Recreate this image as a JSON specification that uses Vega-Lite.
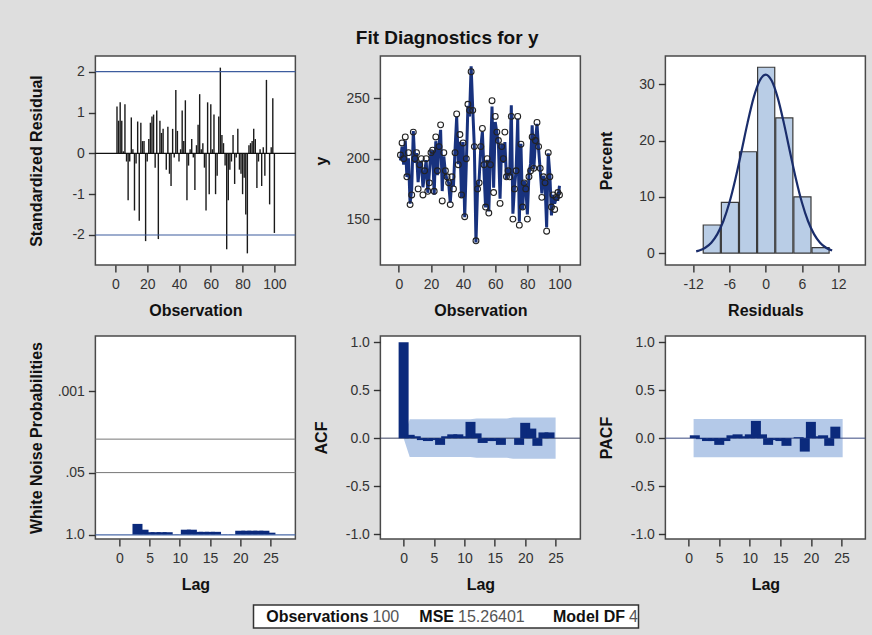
{
  "$schema": "https://vega.github.io/schema/vega-lite/v6.json",
  "background": "#dedede",
  "padding": {"left": 27, "top": 29, "right": 6, "bottom": 9},
  "title": {"text": "Fit Diagnostics for y", "anchor": "middle", "fontSize": 19, "font": "Liberation Sans", "fontWeight": "bold", "color": "#111", "offset": 7},
  "datasets": {
    "series": [
      {"obs":1,"r":1.15,"y":203,"fit":198.5},{"obs":2,"r":0.8,"y":213,"fit":209.9},{"obs":3,"r":1.25,"y":200,"fit":195.1},{"obs":4,"r":0.8,"y":218,"fit":214.9},{"obs":5,"r":0.05,"y":185,"fit":184.8},
      {"obs":6,"r":1.2,"y":205,"fit":200.3},{"obs":7,"r":-0.2,"y":162,"fit":162.8},{"obs":8,"r":-1.15,"y":170,"fit":174.5},{"obs":9,"r":-0.2,"y":222,"fit":222.8},{"obs":10,"r":0.88,"y":200,"fit":196.6},
      {"obs":11,"r":0.1,"y":205,"fit":204.6},{"obs":12,"r":-1.4,"y":175,"fit":180.5},{"obs":13,"r":-0.25,"y":195,"fit":196},{"obs":14,"r":0.78,"y":200,"fit":197},{"obs":15,"r":-1.65,"y":170,"fit":176.4},
      {"obs":16,"r":0.75,"y":190,"fit":187.1},{"obs":17,"r":0.3,"y":200,"fit":198.8},{"obs":18,"r":0.3,"y":173,"fit":171.8},{"obs":19,"r":-2.15,"y":180,"fit":188.4},{"obs":20,"r":-0.2,"y":205,"fit":205.8},
      {"obs":21,"r":0.35,"y":207,"fit":205.6},{"obs":22,"r":0.75,"y":173,"fit":170.1},{"obs":23,"r":0.9,"y":218,"fit":214.5},{"obs":24,"r":0.95,"y":190,"fit":186.3},{"obs":25,"r":-0.35,"y":210,"fit":211.4},
      {"obs":26,"r":1.05,"y":228,"fit":223.9},{"obs":27,"r":-2.1,"y":165,"fit":173.2},{"obs":28,"r":0.8,"y":205,"fit":201.9},{"obs":29,"r":0.5,"y":190,"fit":188},{"obs":30,"r":0.6,"y":185,"fit":182.7},
      {"obs":31,"r":0.0,"y":180,"fit":180},{"obs":32,"r":-0.4,"y":162,"fit":163.6},{"obs":33,"r":0.65,"y":185,"fit":182.5},{"obs":34,"r":-0.5,"y":175,"fit":177},{"obs":35,"r":-0.8,"y":205,"fit":208.1},
      {"obs":36,"r":0.6,"y":237,"fit":234.7},{"obs":37,"r":-0.1,"y":195,"fit":195.4},{"obs":38,"r":1.55,"y":220,"fit":214},{"obs":39,"r":0.55,"y":170,"fit":167.9},{"obs":40,"r":-0.2,"y":213,"fit":213.8},
      {"obs":41,"r":0.1,"y":152,"fit":151.6},{"obs":42,"r":1.05,"y":200,"fit":195.9},{"obs":43,"r":0.3,"y":245,"fit":243.8},{"obs":44,"r":1.3,"y":240,"fit":234.9},{"obs":45,"r":-1.15,"y":272,"fit":276.5},
      {"obs":46,"r":-0.3,"y":240,"fit":241.2},{"obs":47,"r":0.1,"y":210,"fit":209.6},{"obs":48,"r":0.35,"y":132,"fit":130.6},{"obs":49,"r":-0.1,"y":175,"fit":175.4},{"obs":50,"r":-0.9,"y":180,"fit":183.5},
      {"obs":51,"r":0.2,"y":210,"fit":209.2},{"obs":52,"r":0.7,"y":225,"fit":222.3},{"obs":53,"r":1.45,"y":195,"fit":189.3},{"obs":54,"r":0.1,"y":160,"fit":159.6},{"obs":55,"r":0.25,"y":200,"fit":199},
      {"obs":56,"r":-0.35,"y":155,"fit":156.4},{"obs":57,"r":-1.4,"y":195,"fit":200.5},{"obs":58,"r":1.25,"y":248,"fit":243.1},{"obs":59,"r":-1.0,"y":172,"fit":175.9},{"obs":60,"r":1.2,"y":235,"fit":230.3},
      {"obs":61,"r":0.1,"y":222,"fit":221.6},{"obs":62,"r":0.95,"y":215,"fit":211.3},{"obs":63,"r":-1.0,"y":163,"fit":166.9},{"obs":64,"r":-0.55,"y":210,"fit":212.1},{"obs":65,"r":0.9,"y":200,"fit":196.5},
      {"obs":66,"r":2.1,"y":222,"fit":213.8},{"obs":67,"r":0.45,"y":185,"fit":183.2},{"obs":68,"r":0.25,"y":190,"fit":189},{"obs":69,"r":-0.3,"y":185,"fit":186.2},{"obs":70,"r":-2.35,"y":235,"fit":244.2},
      {"obs":71,"r":-1.15,"y":150,"fit":154.5},{"obs":72,"r":-0.4,"y":175,"fit":176.6},{"obs":73,"r":-0.2,"y":190,"fit":190.8},{"obs":74,"r":0.45,"y":235,"fit":233.2},{"obs":75,"r":-0.75,"y":145,"fit":147.9},
      {"obs":76,"r":-0.1,"y":212,"fit":212.4},{"obs":77,"r":0.6,"y":160,"fit":157.7},{"obs":78,"r":-0.4,"y":180,"fit":181.6},{"obs":79,"r":-0.5,"y":175,"fit":177},{"obs":80,"r":-1.0,"y":150,"fit":153.9},
      {"obs":81,"r":-0.6,"y":185,"fit":187.3},{"obs":82,"r":-1.5,"y":190,"fit":195.9},{"obs":83,"r":-2.45,"y":218,"fit":227.6},{"obs":84,"r":0.2,"y":192,"fit":191.2},{"obs":85,"r":0.25,"y":215,"fit":214},
      {"obs":86,"r":0.3,"y":230,"fit":228.8},{"obs":87,"r":0.6,"y":210,"fit":207.7},{"obs":88,"r":0.35,"y":192,"fit":190.6},{"obs":89,"r":-0.85,"y":168,"fit":171.3},{"obs":90,"r":-0.2,"y":185,"fit":185.8},
      {"obs":91,"r":0.1,"y":180,"fit":179.6},{"obs":92,"r":-0.8,"y":140,"fit":143.1},{"obs":93,"r":0.15,"y":205,"fit":204.4},{"obs":94,"r":-0.55,"y":185,"fit":187.1},{"obs":95,"r":1.8,"y":160,"fit":153},
      {"obs":96,"r":0.0,"y":170,"fit":170},{"obs":97,"r":-1.25,"y":158,"fit":162.9},{"obs":98,"r":0.15,"y":168,"fit":167.4},{"obs":99,"r":1.35,"y":172,"fit":166.7},{"obs":100,"r":-1.95,"y":170,"fit":177.6}
    ],
    "hist": [
      {"lo":-10.5,"hi":-7.5,"pct":5},{"lo":-7.5,"hi":-4.5,"pct":9},{"lo":-4.5,"hi":-1.5,"pct":18},{"lo":-1.5,"hi":1.5,"pct":33},
      {"lo":1.5,"hi":4.5,"pct":24},{"lo":4.5,"hi":7.5,"pct":10},{"lo":7.5,"hi":10.5,"pct":1}
    ],
    "curve": [
      {"x":-11.5,"pct":0.31},{"x":-11,"pct":0.46},{"x":-10,"pct":0.96},{"x":-9,"pct":1.86},{"x":-8,"pct":3.38},{"x":-7,"pct":5.71},
      {"x":-6,"pct":8.99},{"x":-5,"pct":13.22},{"x":-4,"pct":18.11},{"x":-3,"pct":23.13},{"x":-2,"pct":27.56},{"x":-1,"pct":30.6},
      {"x":0,"pct":31.7},{"x":1,"pct":30.6},{"x":2,"pct":27.56},{"x":3,"pct":23.13},{"x":4,"pct":18.11},{"x":5,"pct":13.22},
      {"x":6,"pct":8.99},{"x":7,"pct":5.71},{"x":8,"pct":3.38},{"x":9,"pct":1.86},{"x":10,"pct":0.96},{"x":11,"pct":0.46}
    ],
    "wn": [
      {"lag":3,"p":0.59},{"lag":4,"p":0.78},{"lag":5,"p":0.88},{"lag":6,"p":0.88},
      {"lag":7,"p":0.88},{"lag":8,"p":0.88},{"lag":9,"p":0.99},{"lag":10,"p":0.99},{"lag":11,"p":0.78},{"lag":12,"p":0.78},
      {"lag":13,"p":0.865},{"lag":14,"p":0.865},{"lag":15,"p":0.865},{"lag":16,"p":0.865},{"lag":17,"p":0.99},{"lag":18,"p":0.99},
      {"lag":19,"p":0.99},{"lag":20,"p":0.82},{"lag":21,"p":0.82},{"lag":22,"p":0.82},{"lag":23,"p":0.82},{"lag":24,"p":0.82},{"lag":25,"p":0.9}
    ],
    "acf": [
      {"lag":0,"v":1.0},{"lag":1,"v":0.035},{"lag":2,"v":0.02},{"lag":3,"v":-0.02},{"lag":4,"v":-0.03},{"lag":5,"v":-0.02},
      {"lag":6,"v":-0.07},{"lag":7,"v":0.02},{"lag":8,"v":0.04},{"lag":9,"v":0.04},{"lag":10,"v":0.02},{"lag":11,"v":0.17},
      {"lag":12,"v":0.05},{"lag":13,"v":-0.05},{"lag":14,"v":-0.03},{"lag":15,"v":-0.03},{"lag":16,"v":-0.07},{"lag":17,"v":0.0},
      {"lag":18,"v":0.0},{"lag":19,"v":-0.07},{"lag":20,"v":0.16},{"lag":21,"v":0.1},{"lag":22,"v":-0.08},{"lag":23,"v":0.06},{"lag":24,"v":0.06}
    ],
    "acfband": [
      {"lag":0,"hi":0,"lo":0},{"lag":1,"hi":0.197,"lo":-0.197},{"lag":11,"hi":0.197,"lo":-0.197},{"lag":12,"hi":0.205,"lo":-0.205},
      {"lag":17,"hi":0.205,"lo":-0.205},{"lag":18,"hi":0.215,"lo":-0.215},{"lag":25,"hi":0.215,"lo":-0.215}
    ],
    "pacf": [
      {"lag":1,"v":0.03},{"lag":2,"v":-0.01},{"lag":3,"v":-0.03},{"lag":4,"v":-0.03},{"lag":5,"v":-0.07},{"lag":6,"v":-0.03},
      {"lag":7,"v":0.03},{"lag":8,"v":0.04},{"lag":9,"v":0.02},{"lag":10,"v":0.04},{"lag":11,"v":0.18},{"lag":12,"v":0.04},
      {"lag":13,"v":-0.07},{"lag":14,"v":-0.02},{"lag":15,"v":-0.03},{"lag":16,"v":-0.08},{"lag":17,"v":0.0},{"lag":18,"v":0.01},
      {"lag":19,"v":-0.14},{"lag":20,"v":0.17},{"lag":21,"v":0.02},{"lag":22,"v":0.03},{"lag":23,"v":-0.08},{"lag":24,"v":0.12},{"lag":25,"v":0.0}
    ],
    "pacfband": [
      {"lag":0.8,"hi":0.2,"lo":-0.2},{"lag":25.2,"hi":0.2,"lo":-0.2}
    ],
    "footer": [
      {"label":"Observations","value":"100"},{"label":"MSE","value":"15.26401"},{"label":"Model DF","value":"4"}
    ]
  },
  "center": true,
  "spacing": 11,
  "vconcat": [
    {
      "columns": 3,
      "spacing": {"row": 15, "column": 15},
      "concat": [
        {
          "width": 200, "height": 209,
          "layer": [
            {"data": {"name": "series"},
             "mark": {"type": "rule", "color": "#1a1a1a", "strokeWidth": 1.4},
             "encoding": {
               "x": {"field": "obs", "type": "quantitative", "scale": {"domain": [-12.6, 113.2], "nice": false, "zero": false}, "axis": {"values": [0,20,40,60,80,100], "title": "Observation"}},
               "y": {"field": "r", "type": "quantitative", "scale": {"domain": [-2.735, 2.385], "nice": false}, "axis": {"values": [-2,-1,0,1,2], "title": "Standardized Residual"}},
               "y2": {"datum": 0}
             }},
            {"data": {"values": [{"ref": 2}, {"ref": -2}]},
             "mark": {"type": "rule", "color": "#3d5c9e", "strokeWidth": 1.2},
             "encoding": {"y": {"field": "ref", "type": "quantitative"}}},
            {"data": {"values": [{"ref": 0}]},
             "mark": {"type": "rule", "color": "#111", "strokeWidth": 1.2},
             "encoding": {"y": {"field": "ref", "type": "quantitative"}}}
          ]
        },
        {
          "width": 200, "height": 209,
          "data": {"name": "series"},
          "encoding": {
            "x": {"field": "obs", "type": "quantitative", "scale": {"domain": [-11.5, 113], "nice": false, "zero": false}, "axis": {"values": [0,20,40,60,80,100], "title": "Observation"}}
          },
          "layer": [
            {"mark": {"type": "line", "color": "#18327e", "strokeWidth": 3},
             "encoding": {"y": {"field": "fit", "type": "quantitative", "scale": {"domain": [112, 285], "nice": false, "zero": false}, "axis": {"values": [150, 200, 250], "title": "y"}}}},
            {"mark": {"type": "point", "shape": "circle", "filled": false, "color": "#222", "size": 34, "strokeWidth": 1.1, "opacity": 1},
             "encoding": {"y": {"field": "y", "type": "quantitative"}}}
          ]
        },
        {
          "width": 200, "height": 209,
          "layer": [
            {"data": {"name": "hist"},
             "mark": {"type": "bar", "fill": "#b9cde6", "stroke": "#3a3a3a", "strokeWidth": 1.2},
             "encoding": {
               "x": {"field": "lo", "type": "quantitative", "bin": {"binned": true, "step": 3}, "scale": {"domain": [-16.6, 16.5], "nice": false, "zero": false}, "axis": {"values": [-12,-6,0,6,12], "title": "Residuals"}},
               "x2": {"field": "hi"},
               "y": {"field": "pct", "type": "quantitative", "scale": {"domain": [-2.1, 35], "nice": false, "zero": false}, "axis": {"values": [0,10,20,30], "title": "Percent"}},
               "y2": {"datum": 0}
             }},
            {"data": {"name": "curve"},
             "mark": {"type": "line", "color": "#1a2d6b", "strokeWidth": 2.2, "interpolate": "monotone"},
             "encoding": {
               "x": {"field": "x", "type": "quantitative"},
               "y": {"field": "pct", "type": "quantitative"}
             }}
          ]
        },
        {
          "width": 200, "height": 203,
          "layer": [
            {"data": {"values": [{"ref": 0.01}, {"ref": 0.05}]},
             "mark": {"type": "rule", "color": "#777", "strokeWidth": 1},
             "encoding": {"y": {"field": "ref", "type": "quantitative", "scale": {"type": "log", "domain": [0.00007, 1.22], "reverse": true, "nice": false}, "axis": {"values": [0.001, 0.05, 1], "labelExpr": "datum.value == 1 ? '1.0' : datum.value == 0.05 ? '.05' : '.001'", "title": "White Noise Probabilities"}}}},
            {"data": {"name": "wn"},
             "mark": {"type": "bar", "color": "#0b2a7c", "size": 10},
             "encoding": {
               "x": {"field": "lag", "type": "quantitative", "scale": {"domain": [-3.14, 28.3], "nice": false, "zero": false}, "axis": {"values": [0,5,10,15,20,25], "title": "Lag"}},
               "y": {"field": "p", "type": "quantitative"},
               "y2": {"datum": 1}
             }},
            {"data": {"values": [{"ref": 1}]},
             "mark": {"type": "rule", "color": "#4a6aa8", "strokeWidth": 1.2},
             "encoding": {"y": {"field": "ref", "type": "quantitative"}}}
          ]
        },
        {
          "width": 200, "height": 203,
          "layer": [
            {"data": {"name": "acfband"},
             "mark": {"type": "area", "color": "#b4c9e8", "opacity": 1},
             "encoding": {
               "x": {"field": "lag", "type": "quantitative", "scale": {"domain": [-3.0, 28.25], "nice": false, "zero": false}, "axis": {"values": [0,5,10,15,20,25], "title": "Lag"}},
               "y": {"field": "hi", "type": "quantitative", "scale": {"domain": [-1.052, 1.066], "nice": false}, "axis": {"values": [-1,-0.5,0,0.5,1], "format": ".1f", "title": "ACF"}},
               "y2": {"field": "lo"}
             }},
            {"data": {"values": [{"ref": 0}]},
             "mark": {"type": "rule", "color": "#3a4260", "strokeWidth": 1},
             "encoding": {"y": {"field": "ref", "type": "quantitative"}}},
            {"data": {"name": "acf"},
             "mark": {"type": "bar", "color": "#0b2a7c", "size": 10},
             "encoding": {
               "x": {"field": "lag", "type": "quantitative", "axis": {"values": [0,5,10,15,20,25], "title": "Lag"}},
               "y": {"field": "v", "type": "quantitative", "axis": {"values": [-1,-0.5,0,0.5,1], "format": ".1f", "title": "ACF"}},
               "y2": {"datum": 0}
             }}
          ]
        },
        {
          "width": 200, "height": 203,
          "layer": [
            {"data": {"name": "pacfband"},
             "mark": {"type": "area", "color": "#b4c9e8", "opacity": 1},
             "encoding": {
               "x": {"field": "lag", "type": "quantitative", "scale": {"domain": [-3.0, 28.1], "nice": false, "zero": false}, "axis": {"values": [0,5,10,15,20,25], "title": "Lag"}},
               "y": {"field": "hi", "type": "quantitative", "scale": {"domain": [-1.052, 1.066], "nice": false}, "axis": {"values": [-1,-0.5,0,0.5,1], "format": ".1f", "title": "PACF"}},
               "y2": {"field": "lo"}
             }},
            {"data": {"values": [{"ref": 0}]},
             "mark": {"type": "rule", "color": "#3a4a80", "strokeWidth": 1},
             "encoding": {"y": {"field": "ref", "type": "quantitative"}}},
            {"data": {"name": "pacf"},
             "mark": {"type": "bar", "color": "#0b2a7c", "size": 10},
             "encoding": {
               "x": {"field": "lag", "type": "quantitative", "axis": {"values": [0,5,10,15,20,25], "title": "Lag"}},
               "y": {"field": "v", "type": "quantitative", "axis": {"values": [-1,-0.5,0,0.5,1], "format": ".1f", "title": "PACF"}},
               "y2": {"datum": 0}
             }}
          ]
        }
      ]
    },
    {
      "hconcat": [
        {
          "width": 385, "height": 23,
          "view": {"stroke": "#333", "strokeWidth": 1.5, "fill": "white"},
          "data": {"name": "footer"},
          "encoding": {
            "x": {"field": "label", "type": "nominal", "scale": {"type": "point", "domain": ["Observations", "MSE", "gap", "Model DF"], "padding": 0.7515, "align": 0.895}, "axis": null}
          },
          "layer": [
            {"mark": {"type": "text", "align": "right", "baseline": "middle", "font": "Liberation Sans", "fontWeight": "bold", "fontSize": 16, "color": "#111"},
             "encoding": {"text": {"field": "label"}}},
            {"mark": {"type": "text", "align": "left", "baseline": "middle", "dx": 4, "font": "Liberation Sans", "fontSize": 16, "color": "#555"},
             "encoding": {"text": {"field": "value"}}}
          ]
        },
        {
          "width": 70, "height": 23,
          "view": {"stroke": null, "fill": null},
          "data": {"values": [{"note": ""}]},
          "mark": {"type": "text", "opacity": 0},
          "encoding": {"text": {"field": "note"}}
        }
      ],
      "spacing": 0,
      "bounds": "flush"
    }
  ],
  "config": {
    "font": "Liberation Sans",
    "view": {"stroke": "#4a4a4a", "strokeWidth": 1.5, "fill": "white"},
    "axis": {
      "domain": false, "grid": false, "labelOverlap": false,
      "labelExpr": "replace(datum.label, '−', '-')",
      "tickColor": "#333", "tickSize": 7, "tickWidth": 1.4,
      "labelFont": "Liberation Sans", "labelFontSize": 14, "labelColor": "#333",
      "titleFont": "Liberation Sans", "titleFontSize": 16, "titleFontWeight": "bold", "titleColor": "#111"
    },
    "axisX": {"labelPadding": 5, "titleY": 50, "titleBaseline": "alphabetic"},
    "axisY": {"labelPadding": 4, "titleX": -59, "titleBaseline": "middle"}
  }
}
